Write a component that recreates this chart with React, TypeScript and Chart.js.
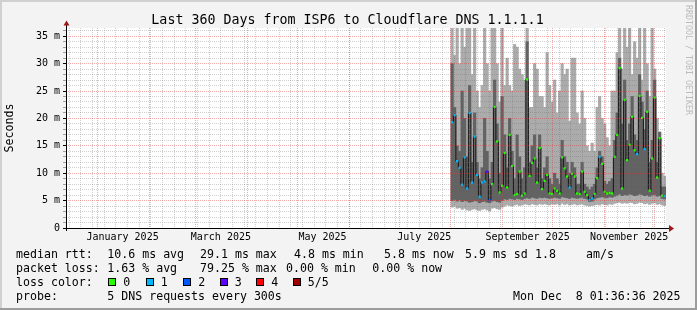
import React, { useEffect, useRef } from 'react';
import { Chart, registerables } from 'chart.js';

Chart.register(...registerables);

// ---------- time frame ----------
const DAY_MS = 86400000;
const END_TIME = Date.UTC(2025, 11, 8, 1, 36, 36);
const SPAN_DAYS = 360;
const START_TIME = END_TIME - SPAN_DAYS * DAY_MS;
const DATA_START = '2025-08-01';
const BIN_DAYS = 1.5;

// ---------- axis ticks ----------
const MONTH_STARTS = [
  '2025-01-01', '2025-02-01', '2025-03-01', '2025-04-01', '2025-05-01', '2025-06-01',
  '2025-07-01', '2025-08-01', '2025-09-01', '2025-10-01', '2025-11-01', '2025-12-01',
];
const LABELED_MONTHS = ['2025-01-01', '2025-03-01', '2025-05-01', '2025-07-01', '2025-09-01', '2025-11-01'];
const MONTH_LABELS = ['January 2025', 'March 2025', 'May 2025', 'July 2025', 'September 2025', 'November 2025'];
const LABEL_OFFSET_DAYS = 15;
const FIRST_WEEK_START = '2024-12-15';
const Y_MAX_MS = 36.5;
const Y_MINOR_STEP = 1;
const Y_MAJOR_STEP = 5;

// ---------- series (ms), one value per 1.5-day bin from Aug 1 2025 ----------
const MEDIAN_MS = [
  19.3, 20.6, 12.2, 11.0, 7.9, 12.9, 7.2, 21.0, 8.3, 16.7,
  9.7, 5.7, 8.3, 8.5, 10.3, 5.1, 8.0, 22.1, 15.8, 6.5,
  7.7, 13.7, 7.4, 17.0, 11.3, 6.0, 6.2, 10.3, 5.9, 6.3,
  27.1, 9.5, 11.9, 12.7, 8.3, 14.6, 7.1, 8.6, 9.7, 6.3,
  6.2, 7.2, 6.8, 6.3, 12.9, 10.9, 9.4, 7.4, 9.9, 9.4,
  6.3, 6.2, 10.3, 6.6, 6.0, 5.1, 5.4, 6.2, 9.1, 13.0,
  11.7, 6.6, 6.3, 6.4, 6.3, 13.0, 17.0, 29.2, 7.2, 23.4,
  12.4, 15.2, 20.3, 14.2, 13.5, 24.1, 20.1, 14.4, 21.2, 6.8,
  12.7, 23.8, 9.2, 16.4, 5.9, 5.8,
];
const LOSS_INDEX = [
  1, 1, 1, 1, 1, 1, 1, 1, 1, 1,
  1, 1, 1, 1, 3, 2, 0, 0, 0, 0,
  0, 0, 0, 0, 0, 0, 0, 0, 0, 0,
  0, 0, 0, 0, 0, 0, 0, 0, 0, 0,
  0, 0, 0, 0, 0, 0, 0, 1, 0, 0,
  0, 0, 0, 0, 0, 1, 1, 0, 0, 1,
  0, 0, 0, 0, 0, 0, 0, 0, 0, 0,
  0, 0, 0, 0, 1, 0, 0, 1, 0, 0,
  0, 0, 0, 0, 0, 1,
];
const SMOKE_MIN = [
  3.8, 4.0, 3.6, 3.7, 3.4, 3.6, 3.3, 3.2, 3.4, 3.5,
  3.3, 3.2, 3.4, 3.5, 3.3, 3.1, 3.6, 3.7, 3.5, 3.4,
  3.8, 4.0, 4.2, 4.1, 4.0, 4.2, 4.3, 4.1, 4.2, 4.4,
  4.3, 4.2, 4.4, 4.3, 4.2, 4.4, 4.3, 4.4, 4.3, 4.2,
  4.4, 4.3, 4.4, 4.2, 4.5, 4.3, 4.4, 4.2, 4.3, 4.4,
  4.2, 4.3, 4.4, 4.2, 4.1, 4.0, 4.1, 4.2, 4.3, 4.2,
  4.4, 4.3, 4.2, 4.4, 4.3, 4.5, 4.6, 4.7, 4.5, 4.6,
  4.5, 4.7, 4.6, 4.4, 4.5, 4.7, 4.6, 4.4, 4.5, 4.3,
  4.5, 4.6, 4.3, 4.4, 4.2, 4.1,
];
const SMOKE_LO = [
  5.0, 5.2, 4.9, 5.1, 4.8, 5.0, 4.9, 4.7, 4.8, 5.0,
  4.9, 4.6, 4.8, 4.9, 4.7, 4.6, 4.9, 5.0, 4.8, 4.7,
  5.0, 5.3, 5.2, 5.4, 5.3, 5.2, 5.4, 5.3, 5.2, 5.4,
  5.5, 5.4, 5.6, 5.5, 5.4, 5.6, 5.5, 5.6, 5.5, 5.4,
  5.5, 5.6, 5.5, 5.4, 5.7, 5.6, 5.5, 5.4, 5.6, 5.5,
  5.4, 5.5, 5.6, 5.4, 5.3, 4.8, 4.9, 5.3, 5.5, 5.6,
  5.7, 5.6, 5.5, 5.7, 5.6, 5.8, 6.0, 6.2, 5.9, 6.1,
  6.0, 6.2, 6.1, 5.9, 6.0, 6.2, 6.1, 5.9, 6.0, 5.8,
  6.0, 6.1, 5.8, 5.9, 5.4, 5.3,
];
const SMOKE_HI = [
  30, 22, 15, 14, 25, 20, 13, 26, 12, 21,
  12, 9, 11, 20, 14, 9, 12, 27, 19, 10,
  24, 17, 11, 20, 14, 9, 17, 13, 9, 11,
  34, 12, 15, 17, 11, 17, 9, 11, 13, 9,
  8, 10, 9, 8, 16, 13, 12, 10, 12, 11,
  8, 8, 12, 8, 7.5, 7, 7.5, 8, 11, 14,
  13, 8.5, 8, 8.5, 9, 16, 21, 31, 19, 27,
  16, 19, 24, 17, 16, 28, 23, 18, 25, 12,
  16, 27, 12, 17.5, 7.5, 7.5,
];
const SMOKE_MAX = [
  36.5, 31.5, 36.5, 30, 36.5, 33, 36.5, 36.5, 28, 36.5,
  25, 22, 26, 36.5, 30, 25, 36.5, 36.5, 30, 23,
  36.5, 26, 31, 26, 25, 33.5, 33, 29, 28, 27,
  36.5, 22, 22, 30, 29, 24, 24, 22, 32, 26,
  23, 27, 21, 25, 30, 28, 29, 19.5, 31, 31,
  21, 19, 25, 20, 15, 14, 15.5, 14, 22, 24,
  20, 19, 16.5, 15, 25, 25, 32, 36.5, 29, 36.5,
  33, 36.5, 28, 34, 31, 36.5, 27, 36.5, 30, 24,
  36.5, 29, 20, 17.5, 10, 9.5,
];

// ---------- legend ----------
const TITLE = 'Last 360 Days from ISP6 to Cloudflare DNS 1.1.1.1';
const Y_TITLE = 'Seconds';
const WATERMARK = 'RRDTOOL / TOBI OETIKER';
const RTT_LABEL = 'median rtt:';
const RTT_STATS = ['10.6 ms avg', '29.1 ms max', '4.8 ms min', '5.8 ms now', '5.9 ms sd', '1.8', 'am/s'];
const LOSS_LABEL = 'packet loss:';
const LOSS_STATS = ['1.63 % avg', '79.25 % max', '0.00 % min', '0.00 % now'];
const LOSS_COLOR_LABEL = 'loss color:';
const LOSS_NAMES = ['0', '1', '2', '3', '4', '5/5'];
const LOSS_COLORS = ['#26ff00', '#00b8ff', '#0059ff', '#5e00ff', '#ff0000', '#a10000'];
const PROBE_LABEL = 'probe:';
const PROBE_TEXT = '5 DNS requests every 300s';
const DATE_TEXT = 'Mon Dec  8 01:36:36 2025';

// ---------- helpers ----------
const dayOf = (ms: number) => (ms - START_TIME) / DAY_MS;
const parseDay = (s: string) => Date.parse(s + 'T00:00:00Z');
const binX = (i: number) => dayOf(parseDay(DATA_START)) + (i + 0.5) * BIN_DAYS;

type XTick = { value: number; kind: string; text: string };
const buildXTicks = (): XTick[] => {
  const ticks: XTick[] = [];
  for (let t = parseDay(FIRST_WEEK_START); t < END_TIME; t += 7 * DAY_MS) {
    ticks.push({ value: dayOf(t), kind: 'week', text: '' });
  }
  MONTH_STARTS.forEach((s) => ticks.push({ value: dayOf(parseDay(s)), kind: 'month', text: '' }));
  LABELED_MONTHS.forEach((s, i) =>
    ticks.push({ value: dayOf(parseDay(s)) + LABEL_OFFSET_DAYS, kind: 'label', text: MONTH_LABELS[i] })
  );
  ticks.sort((a, b) => a.value - b.value);
  return ticks;
};

const MONO = '"DejaVu Sans Mono", monospace';
const GRID_MINOR = 'rgba(110,110,110,0.32)';
const GRID_MAJOR = 'rgba(225,50,50,0.42)';

const decorPlugin = {
  id: 'rrdDecor',
  beforeDraw(chart: any) {
    const { ctx, width, height, chartArea: a } = chart;
    ctx.save();
    ctx.fillStyle = '#f3f3f3';
    ctx.fillRect(0, 0, width, height);
    ctx.fillStyle = '#d0d0d0';
    ctx.fillRect(0, 0, width, 2);
    ctx.fillRect(0, 0, 2, height);
    ctx.fillStyle = '#9c9c9c';
    ctx.fillRect(0, height - 2, width, 2);
    ctx.fillRect(width - 2, 0, 2, height);
    ctx.fillStyle = '#ffffff';
    ctx.fillRect(a.left, a.top, a.right - a.left, a.bottom - a.top);
    ctx.restore();
  },
  afterDraw(chart: any) {
    const { ctx, chartArea: a } = chart;
    const x0 = Math.round(chart.scales.x.getPixelForValue(0));
    const y0 = Math.round(chart.scales.y.getPixelForValue(0));
    ctx.save();
    // axes
    ctx.fillStyle = '#000';
    ctx.fillRect(x0 - 3, y0, a.right - x0 + 7, 1);
    ctx.fillRect(x0, a.top - 4, 1, y0 - a.top + 7);
    // arrows
    ctx.fillStyle = '#a31515';
    ctx.beginPath();
    ctx.moveTo(x0 - 2.5, a.top - 2.5);
    ctx.lineTo(x0 + 3.5, a.top - 2.5);
    ctx.lineTo(x0 + 0.5, a.top - 7.5);
    ctx.closePath();
    ctx.fill();
    ctx.beginPath();
    ctx.moveTo(a.right + 3, y0 - 3);
    ctx.lineTo(a.right + 3, y0 + 4);
    ctx.lineTo(a.right + 8, y0 + 0.5);
    ctx.closePath();
    ctx.fill();

    // title
    ctx.fillStyle = '#000';
    ctx.textBaseline = 'alphabetic';
    ctx.textAlign = 'center';
    ctx.font = `13.3px ${MONO}`;
    ctx.fillText(TITLE, 347.5, 24);

    // y title
    ctx.save();
    ctx.translate(10, (a.top + a.bottom) / 2);
    ctx.rotate(-Math.PI / 2);
    ctx.font = `11.6px ${MONO}`;
    ctx.textBaseline = 'middle';
    ctx.textAlign = 'center';
    ctx.fillText(Y_TITLE, 0, 0);
    ctx.restore();

    // watermark
    ctx.save();
    ctx.translate(688, 5);
    ctx.rotate(Math.PI / 2);
    ctx.font = `8.3px ${MONO}`;
    ctx.fillStyle = '#bcbcbc';
    ctx.textBaseline = 'middle';
    ctx.textAlign = 'left';
    ctx.fillText(WATERMARK, 0, 0);
    ctx.restore();

    // legend
    ctx.font = `11.6px ${MONO}`;
    ctx.textAlign = 'left';
    ctx.textBaseline = 'alphabetic';
    ctx.fillStyle = '#000';
    const l1 = 258, l2 = 272, l3 = 285.7, l4 = 299.6;
    ctx.fillText(RTT_LABEL, 16, l1);
    const rttX = [107.3, 200, 294, 384, 465, 535, 586];
    RTT_STATS.forEach((s, i) => ctx.fillText(s, rttX[i], l1));
    ctx.fillText(LOSS_LABEL, 16, l2);
    const lossX = [107.3, 200, 286, 372.3];
    LOSS_STATS.forEach((s, i) => ctx.fillText(s, lossX[i], l2));
    ctx.fillText(LOSS_COLOR_LABEL, 16, l3);
    const boxX = [108, 145.5, 183, 219.5, 256, 292.5];
    LOSS_NAMES.forEach((s, i) => {
      const bx = Math.round(boxX[i]);
      ctx.fillStyle = LOSS_COLORS[i];
      ctx.fillRect(bx, 278, 8, 8);
      ctx.strokeStyle = '#000';
      ctx.lineWidth = 1;
      ctx.strokeRect(bx + 0.5, 278.5, 7, 7);
      ctx.fillStyle = '#000';
      ctx.fillText(s, boxX[i] + 15.3, l3);
    });
    ctx.fillText(PROBE_LABEL, 16, l4);
    ctx.fillText(PROBE_TEXT, 107.3, l4);
    ctx.fillText(DATE_TEXT, 513, l4);
    ctx.restore();
  },
};

export default function App() {
  const canvasRef = useRef<HTMLCanvasElement | null>(null);

  useEffect(() => {
    const canvas = canvasRef.current;
    if (!canvas) return;
    const xTicks = buildXTicks();
    const bins = MEDIAN_MS.map((_, i) => binX(i));

    const chart = new Chart(canvas, {
      type: 'bar',
      data: {
        datasets: [
          {
            type: 'line',
            label: 'loss',
            data: bins.map((x, i) => ({ x, y: MEDIAN_MS[i] })),
            showLine: false,
            pointStyle: 'rect',
            pointRadius: 1.6,
            pointBorderWidth: 0,
            pointBackgroundColor: LOSS_INDEX.map((k) => LOSS_COLORS[k]),
            order: 0,
          } as any,
          {
            type: 'line',
            label: 'median',
            data: bins.map((x, i) => ({ x, y: MEDIAN_MS[i] })),
            stepped: 'middle',
            borderColor: '#151515',
            borderWidth: 1,
            pointRadius: 0,
            order: 1,
          } as any,
          {
            type: 'bar',
            label: 'inner',
            data: bins.map((x, i) => ({ x, y: [SMOKE_LO[i], SMOKE_HI[i]] })),
            backgroundColor: '#626262',
            stack: 'smoke',
            barThickness: 'flex',
            categoryPercentage: 1,
            barPercentage: 1,
            borderWidth: 0,
            order: 2,
          } as any,
          {
            type: 'bar',
            label: 'outer',
            data: bins.map((x, i) => ({ x, y: [SMOKE_MIN[i], SMOKE_MAX[i]] })),
            backgroundColor: '#ababab',
            stack: 'smoke',
            barThickness: 'flex',
            categoryPercentage: 1,
            barPercentage: 1,
            borderWidth: 0,
            order: 3,
          } as any,
        ],
      },
      options: {
        responsive: false,
        animation: false,
        events: [],
        layout: { padding: { left: 0, top: 28, right: 31, bottom: 0 } },
        plugins: { legend: { display: false }, tooltip: { enabled: false }, title: { display: false } },
        scales: {
          x: {
            type: 'linear',
            min: 0,
            max: SPAN_DAYS,
            offset: false,
            afterBuildTicks: (scale: any) => {
              scale.ticks = xTicks.map((t) => ({ ...t }));
            },
            afterFit: (scale: any) => {
              scale.height = 82;
              scale.paddingLeft = 0;
              scale.paddingRight = 0;
            },
            ticks: {
              autoSkip: false,
              maxRotation: 0,
              minRotation: 0,
              padding: 3,
              color: '#000',
              font: { family: MONO, size: 10 },
              callback: (_v: any, i: number, ticks: any[]) => ticks[i].text,
            },
            grid: {
              z: 1,
              offset: false,
              drawTicks: false,
              lineWidth: 1,
              color: (c: any) =>
                c.tick && c.tick.kind === 'month' ? GRID_MAJOR : c.tick && c.tick.kind === 'week' ? GRID_MINOR : 'rgba(0,0,0,0)',
            },
            border: { display: false, dash: [1, 1] },
          },
          y: {
            type: 'linear',
            min: 0,
            max: Y_MAX_MS,
            stacked: false,
            afterBuildTicks: (scale: any) => {
              const t: any[] = [];
              for (let v = 0; v <= Y_MAX_MS; v += Y_MINOR_STEP) t.push({ value: v });
              scale.ticks = t;
            },
            afterFit: (scale: any) => {
              scale.width = 66;
              scale.paddingTop = 0;
              scale.paddingBottom = 0;
            },
            ticks: {
              autoSkip: false,
              padding: 3,
              color: '#000',
              font: { family: MONO, size: 10 },
              callback: (v: any) => (v % Y_MAJOR_STEP === 0 ? (v === 0 ? '0' : `${v} m`) : ''),
            },
            grid: {
              z: 1,
              drawTicks: true,
              tickLength: 3,
              lineWidth: 1,
              color: (c: any) =>
                c.tick && c.tick.value === 0 ? 'rgba(0,0,0,0)' : c.tick && c.tick.value % Y_MAJOR_STEP === 0 ? GRID_MAJOR : GRID_MINOR,
              tickColor: (c: any) => (c.tick && c.tick.value % Y_MAJOR_STEP === 0 ? '#000' : 'rgba(0,0,0,0.35)'),
            },
            border: { display: false, dash: [1, 1] },
          },
        },
      } as any,
      plugins: [decorPlugin],
    });
    return () => chart.destroy();
  }, []);

  return (
    <div style={{ position: 'fixed', left: 0, top: 0, width: 697, height: 310 }}>
      <canvas ref={canvasRef} width={697} height={310} style={{ display: 'block', width: 697, height: 310 }} />
    </div>
  );
}
